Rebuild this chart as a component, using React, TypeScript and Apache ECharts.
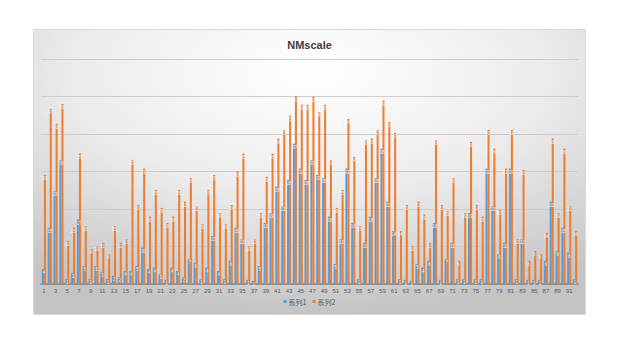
import React, { useEffect, useRef } from "react";
import * as echarts from "echarts";

const categories = [
  "1","2","3","4","5","6","7","8","9","10","11","12","13","14","15","16","17","18","19","20",
  "21","22","23","24","25","26","27","28","29","30","31","32","33","34","35","36","37","38","39","40",
  "41","42","43","44","45","46","47","48","49","50","51","52","53","54","55","56","57","58","59","60",
  "61","62","63","64","65","66","67","68","69","70","71","72","73","74","75","76","77","78","79","80",
  "81","82","83","84","85","86","87","88","89","90","91","92",
];

const series1 = [
  4, 15, 24.7, 33, 1.3, 3, 17.2, 4.8, 1.3, 4.8, 3.1, 1.3, 2.2, 1.8, 3.5, 3.5, 4.8, 9.7, 4, 4.4,
  2.6, 1.1, 4.4, 3.5, 1.8, 6.6, 5.7, 1.3, 4.4, 12.8, 3.5, 1.3, 6.2, 15, 11.9, 1.1, 0.9, 4.8, 16.3, 18.9,
  26, 20.7, 27.8, 37.4, 30.8, 27.8, 33, 29.1, 28.2, 18, 5.3, 11.9, 30.8, 16.3, 1.3, 11, 18, 28.2, 36.1, 22,
  14.1, 1.3, 1.1, 0.9, 5.3, 4.4, 6.2, 16.3, 1.1, 6.6, 11, 1.3, 1.3, 18.9, 1.3, 1.3, 30.8, 20.7, 7.9, 11,
  30.8, 1.3, 11.9, 1.1, 1.1, 1.1, 6.2, 22, 8.8, 15, 8.4, 1.3,
];

const series2 = [
  29.1, 46.7, 42.7, 48, 11.5, 15, 34.8, 15.4, 9.3, 10.1, 11, 7.9, 15.4, 11, 11.9, 33, 21.1, 30.8, 18, 25.1,
  20.3, 16.3, 18, 25.1, 22, 28.2, 20.7, 15.9, 25.1, 29.1, 18.9, 15.9, 21.1, 30, 34.8, 10.1, 11.9, 18.9, 28.6, 34.8,
  38.8, 41, 44.9, 50, 47.8, 47.8, 50, 45.8, 47.8, 33, 20.3, 25.1, 44, 33.9, 15.4, 38.3, 38.8, 41, 48.9, 43.2,
  40.3, 14.1, 21.1, 10.1, 22, 18.5, 11, 38.3, 21.1, 19.4, 28.2, 6.2, 18.9, 37.9, 21.1, 18, 41.1, 36.1, 19.8, 30.8,
  41.1, 11.9, 30.4, 6.2, 8.8, 7.9, 13.7, 38.8, 18.9, 36.1, 20.7, 14.1,
];

const seriesNames = ["系列1", "系列2"];
const titleText = "NMscale";

export default function App() {
  const ref = useRef<HTMLDivElement>(null);

  useEffect(() => {
    if (!ref.current) return;
    const chart = echarts.init(ref.current, undefined, { renderer: "svg" });
    const makeLabel = (dx: number) => ({
      show: true,
      position: "insideTop",
      distance: 1,
      offset: [dx, 0],
      fontSize: 4.5,
      color: "rgba(255,255,255,0.85)",
      formatter: (p: any) => String(Math.round(p.value)),
    });
    chart.setOption({
      animation: false,
      backgroundColor: {
        type: "radial",
        x: 0.5,
        y: 0.15,
        r: 0.85,
        colorStops: [
          { offset: 0, color: "#ffffff" },
          { offset: 0.5, color: "#ececec" },
          { offset: 1, color: "#c4c4c4" },
        ],
      },
      title: {
        text: titleText,
        left: "center",
        top: 4,
        textStyle: {
          fontFamily: "Liberation Sans, Arial, sans-serif",
          fontSize: 11,
          fontWeight: "bold",
          color: "#404040",
        },
      },
      legend: {
        bottom: 4,
        left: "center",
        itemWidth: 3,
        itemHeight: 3,
        itemGap: 6,
        icon: "rect",
        textStyle: {
          fontFamily: "Noto Sans CJK SC, sans-serif",
          fontSize: 7,
          color: "#595959",
          padding: [0, 0, 0, -3],
        },
        data: seriesNames,
      },
      grid: {
        left: 7,
        right: 7,
        top: 29,
        bottom: 30,
        containLabel: false,
      },
      xAxis: {
        type: "category",
        data: categories,
        axisLine: { lineStyle: { color: "#7f7f7f", width: 1.5 } },
        axisTick: { show: false },
        axisLabel: {
          interval: 1,
          fontSize: 6,
          color: "#595959",
          margin: 4,
          fontFamily: "Liberation Sans, Arial, sans-serif",
        },
      },
      yAxis: {
        type: "value",
        min: 0,
        max: 60,
        interval: 10,
        axisLine: { show: false },
        axisTick: { show: false },
        axisLabel: { show: false },
        splitLine: { lineStyle: { color: "#cccccc", width: 1 } },
      },
      series: [
        {
          name: seriesNames[0],
          type: "bar",
          data: series1,
          itemStyle: { color: "#5b9bd5" },
          barGap: "0%",
          barCategoryGap: "30%",
          label: makeLabel(1),
        },
        {
          name: seriesNames[1],
          type: "bar",
          data: series2,
          itemStyle: { color: "#ed7d31" },
          barGap: "0%",
          barCategoryGap: "30%",
          label: makeLabel(-1),
        },
      ],
    });
    return () => chart.dispose();
  }, []);

  return (
    <div style={{ position: "fixed", left: 0, top: 0, width: 643, height: 362, background: "#ffffff" }}>
      <div
        ref={ref}
        style={{
          position: "absolute",
          left: 33,
          top: 29,
          width: 553,
          height: 286,
          boxSizing: "border-box",
          border: "1px solid #d9d9d9",
        }}
      />
    </div>
  );
}
